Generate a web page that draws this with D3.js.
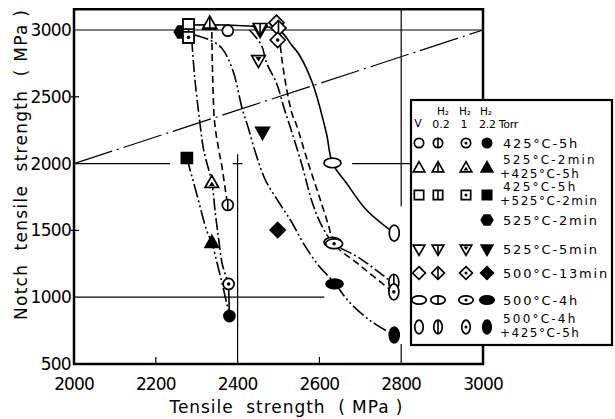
<!DOCTYPE html>
<html><head><meta charset="utf-8">
<script src="https://cdn.jsdelivr.net/npm/d3@7/dist/d3.min.js"></script>
<style>
body{margin:0;background:#fff}
svg{display:block}
text{font-family:"DejaVu Sans","Liberation Sans",Arial,sans-serif;fill:#000}
</style>
</head><body>
<svg id="chart" width="615" height="419"></svg>
<script>
// ---------- data ----------
const xTicks = [2000, 2200, 2400, 2600, 2800, 3000];
const yTicks = [500, 1000, 1500, 2000, 2500, 3000];
const atmospheres = ["V", "H₂ 0.2", "H₂ 1", "H₂ 2.2"];
const treatments = ["425°C-5h", "525°C-2min +425°C-5h", "425°C-5h +525°C-2min", "525°C-2min",
                    "525°C-5min", "500°C-13min", "500°C-4h", "500°C-4h +425°C-5h"];
const treatmentShapes = ["circle", "triangle", "square", "hexagon", "invtri", "diamond", "ellipseH", "ellipseV"];

// [shape, tensile strength, notch tensile strength]
const pointsV   = [["square",2280,3040],["triangle",2332,3040],["circle",2376,2995],["invtri",2455,3000],["diamond",2495,3055],["ellipseH",2632,2005],["ellipseV",2783,1480]];
const points02  = [["square",2280,2965],["triangle",2332,3048],["circle",2376,1690],["invtri",2455,3015],["diamond",2500,3015],["ellipseH",2632,1412],["ellipseV",2782,1112]];
const points1   = [["square",2280,2945],["triangle",2337,1855],["circle",2378,1099],["invtri",2451,2775],["diamond",2498,2925],["ellipseH",2636,1400],["ellipseV",2782,1040]];
const points22  = [["hexagon",2262,2985],["square",2276,2042],["triangle",2337,1406],["circle",2380,859],["invtri",2461,2237],["diamond",2498,1503],["ellipseH",2637,1099],["ellipseV",2783,717]];

// fitted curves [TS, NTS]
const curveV    = [[2280,3037],[2376,3037],[2441,3027],[2478,3020],[2507,2985],[2532,2888],[2551,2813],[2583,2603],[2617,2229],[2632,2004],[2666,1855],[2715,1653],[2783,1480]];
const curve02L  = [[2337,2985],[2339,2648],[2344,2304],[2354,2102],[2361,1990],[2373,1743],[2376,1690]];
const curve02R  = [[2502,2963],[2507,2813],[2519,2573],[2534,2364],[2544,2289],[2568,2049],[2600,1750],[2624,1518],[2634,1406],[2698,1241],[2780,1039]];
const curve1L   = [[2288,2925],[2295,2648],[2307,2326],[2317,2102],[2337,1855],[2346,1615],[2354,1428],[2363,1241],[2378,1099]];
const curve1R   = [[2429,3000],[2458,2888],[2471,2753],[2495,2603],[2515,2401],[2527,2289],[2556,2004],[2583,1705],[2605,1540],[2634,1406],[2698,1293],[2780,1106]];
const curve22L  = [[2276,2042],[2302,1750],[2324,1503],[2337,1406],[2352,1230],[2366,1054],[2380,859]];
const curve22R  = [[2295,2963],[2332,2925],[2361,2865],[2388,2701],[2412,2401],[2424,2289],[2444,2079],[2468,1877],[2502,1705],[2532,1563],[2559,1413],[2595,1249],[2637,1106],[2673,964],[2729,814],[2783,717]];
const curveTail = [[2378,1099],[2380,859]];
const diagonal  = [[2000,2000],[3000,3000]];

const legendHeader = ["V", "H₂", "H₂", "H₂"];
const legendSub = ["", "0.2", "1", "2.2 Torr"];
const legendLabels = [["425°C-5h"],["525°C-2min","+425°C-5h"],["425°C-5h","+525°C-2min"],["525°C-2min"],
                      ["525°C-5min"],["500°C-13min"],["500°C-4h"],["500°C-4h","+425°C-5h"]];

// ---------- drawing ----------
const svg = d3.select("#chart");
const x = d3.scaleLinear().domain([2000, 3000]).range([74, 483]);
const y = d3.scaleLinear().domain([500, 3000]).range([364, 30]);
const yTop = 3155;

const dashes = [null, "7,4", "12,3,2,3", "14,3,2,3,2,3"];

// grid segments
const grid = svg.append("g").attr("stroke", "#000").attr("stroke-width", 1.2);
function hseg(v, a, b){ grid.append("line").attr("x1", x(a)).attr("x2", x(b)).attr("y1", y(v)).attr("y2", y(v)); }
function vseg(v, a, b){ grid.append("line").attr("x1", x(v)).attr("x2", x(v)).attr("y1", y(a)).attr("y2", y(b)); }
hseg(3000, 2000, 3000);
hseg(2000, 2000, 2235); hseg(2000, 2680, 2830); hseg(2000, 2388, 2412);
hseg(1000, 2000, 2612);
vseg(2400, 2070, 500);
vseg(2800, yTop, 1680); vseg(2800, 650, 500);

// diagonal
const line = d3.line().x(d => x(d[0])).y(d => y(d[1]));
svg.append("path").attr("d", line(diagonal)).attr("fill", "none").attr("stroke", "#000")
  .attr("stroke-width", 1.2).attr("stroke-dasharray", "40,5,2,5");

// curves
const smooth = d3.line().x(d => x(d[0])).y(d => y(d[1])).curve(d3.curveCatmullRom.alpha(0.5));
const curves = [[curveV,0],[curve02L,1],[curve02R,1],[curve1L,2],[curve1R,2],[curve22L,3],[curve22R,3],[curveTail,0]];
curves.forEach(([pts, a]) => {
  svg.append("path").attr("d", smooth(pts)).attr("fill", "none").attr("stroke", "#000")
    .attr("stroke-width", 1.6).attr("stroke-dasharray", dashes[a]);
});

// marker drawing
function shapeInfo(shape){
  switch(shape){
    case "circle":   return {d: d3.symbol().type(d3.symbolCircle).size(Math.PI*5.5*5.5)(), top:-5.5, bot:5.5};
    case "square":   return {d: "M-5.5,-5.5H5.5V5.5H-5.5Z", top:-5.5, bot:5.5};
    case "triangle": return {d: "M0,-7.5L6.8,4.5H-6.8Z", top:-7.5, bot:4.5};
    case "invtri":   return {d: "M0,7.5L6.8,-4.5H-6.8Z", top:-4.5, bot:7.5};
    case "diamond":  return {d: "M0,-7.5L7.5,0L0,7.5L-7.5,0Z", top:-7.5, bot:7.5};
    case "ellipseH": return {d: "M-8.5,0A8.5,4.8 0 1,0 8.5,0A8.5,4.8 0 1,0 -8.5,0Z", top:-4.8, bot:4.8};
    case "ellipseV": return {d: "M-5,0A5,8 0 1,0 5,0A5,8 0 1,0 -5,0Z", top:-8, bot:8};
    case "hexagon":  return {d: "M6.8,0L3.4,5.9H-3.4L-6.8,0L-3.4,-5.9H3.4Z", top:-5.9, bot:5.9};
  }
}
function drawMarker(parent, shape, atm, cx, cy, k){
  const g = parent.append("g").attr("transform", `translate(${cx},${cy}) scale(${k})`);
  const info = shapeInfo(shape);
  g.append("path").attr("d", info.d).attr("fill", atm === 3 ? "#000" : "#fff")
    .attr("stroke", "#000").attr("stroke-width", 1.7 / k);
  if (atm === 1) {
    g.append("line").attr("x1", 0).attr("x2", 0).attr("y1", info.top).attr("y2", info.bot)
      .attr("stroke", "#000").attr("stroke-width", 1.6 / k);
  } else if (atm === 2) {
    if (shape === "triangle") g.append("path").attr("d", "M0,-1.5L3,3H-3Z").attr("fill", "#000");
    else if (shape === "invtri") g.append("path").attr("d", "M0,1.5L3,-3H-3Z").attr("fill", "#000");
    else g.append("circle").attr("r", 1.8).attr("fill", "#000");
  }
}
const mk = svg.append("g");
[pointsV, points02, points1, points22].forEach((arr, a) => {
  arr.forEach(p => drawMarker(mk, p[0], a, x(p[1]), y(p[2]), 1));
});
// re-draw squares on top of hexagon
[pointsV, points02, points1].forEach((arr, a) => {
  arr.filter(p => p[0] === "square").forEach(p => drawMarker(mk, p[0], a, x(p[1]), y(p[2]), 1));
});

// frame
svg.append("path").attr("d", `M${x(2000)},${y(yTop)}H${x(3000)}V${y(500)}H${x(2000)}Z`)
  .attr("fill", "none").attr("stroke", "#000").attr("stroke-width", 2.5);

// small ticks
const tk = svg.append("g").attr("stroke", "#000").attr("stroke-width", 1.2);
[2200, 2600].forEach(v => tk.append("line").attr("x1", x(v)).attr("x2", x(v)).attr("y1", y(500)).attr("y2", y(500) - 7));
[1500, 2500].forEach(v => tk.append("line").attr("x1", x(2000) - 3).attr("x2", x(2000) + 5).attr("y1", y(v)).attr("y2", y(v)));

// tick labels
svg.append("g").selectAll("text").data(xTicks).join("text")
  .attr("x", d => x(d)).attr("y", 390).attr("text-anchor", "middle")
  .attr("font-size", 17).attr("letter-spacing", -0.9).text(d => d);
svg.append("g").selectAll("text").data(yTicks).join("text")
  .attr("x", 71).attr("y", d => y(d) + 6).attr("text-anchor", "end")
  .attr("font-size", 17).attr("letter-spacing", -0.7).text(d => d);

// axis titles
svg.append("text").attr("x", 286).attr("y", 413).attr("text-anchor", "middle")
  .attr("font-size", 17).style("white-space", "pre")
  .attr("textLength", 233).attr("lengthAdjust", "spacing")
  .text("Tensile  strength  ( MPa )");
svg.append("text").attr("transform", "translate(27,165) rotate(-90)").attr("text-anchor", "middle")
  .attr("font-size", 17).style("white-space", "pre")
  .attr("textLength", 310).attr("lengthAdjust", "spacing")
  .text("Notch  tensile  strength  ( MPa )");

// legend
const lg = svg.append("g");
lg.append("rect").attr("x", 411).attr("y", 100).attr("width", 201).attr("height", 245)
  .attr("fill", "#fff").attr("stroke", "#000").attr("stroke-width", 2.2);
const colX = [419, 438, 466, 487];
const rowY = [143, 168, 195, 220, 249, 273, 300, 327];
lg.append("text").attr("x", 418).attr("y", 127).attr("text-anchor", "middle").attr("font-size", 11).text(legendHeader[0]);
[1, 2, 3].forEach(i => {
  lg.append("text").attr("x", [0, 443, 465, 486][i]).attr("y", 115).attr("text-anchor", "middle")
    .attr("font-size", 10.5).text(legendHeader[i]);
});
lg.append("text").attr("x", 441).attr("y", 128).attr("text-anchor", "middle").attr("font-size", 11).text(legendSub[1]);
lg.append("text").attr("x", 464).attr("y", 128).attr("text-anchor", "middle").attr("font-size", 11).text(legendSub[2]);
lg.append("text").attr("x", 479).attr("y", 128).attr("font-size", 11).attr("letter-spacing", -0.3).text(legendSub[3]);

treatmentShapes.forEach((shape, i) => {
  const atms = shape === "hexagon" ? [3] : [0, 1, 2, 3];
  atms.forEach(a => drawMarker(lg, shape, a, colX[a], rowY[i], 0.85));
  const labs = legendLabels[i];
  labs.forEach((l, j) => {
    const two = labs.length === 2;
    const base = two ? rowY[i] - 4 + j * 14 : rowY[i] + 5;
    lg.append("text").attr("x", l.startsWith("+") ? 500 : 503).attr("y", base)
      .attr("font-size", two ? 12 : 13)
      .attr("letter-spacing", l.startsWith("+") ? 1.5 : (two ? 2.2 : 1.8)).text(l);
  });
});
</script>
</body></html>
